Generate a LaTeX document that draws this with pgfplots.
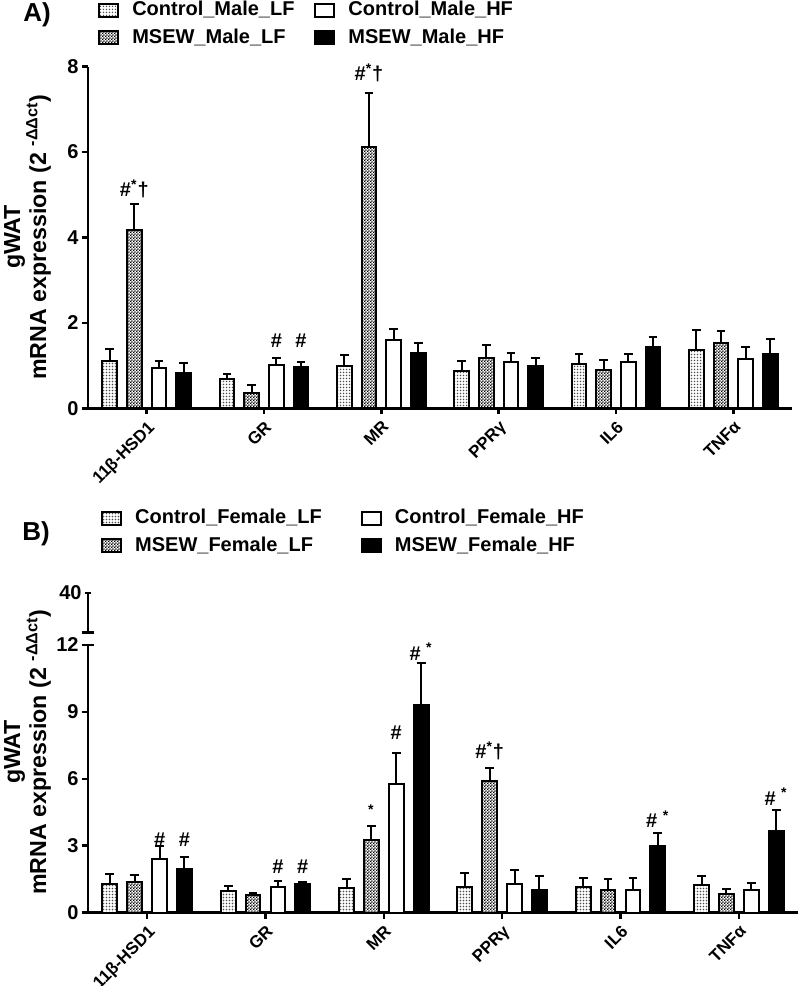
\documentclass[border=0pt]{standalone}
\usepackage{pgfplots}
\usepackage{pgfplotstable}
\pgfplotsset{compat=1.18}
\usepackage{fontspec}
\setmainfont{Liberation Sans}
\usetikzlibrary{patterns}

\pgfdeclarepatternformonly{finedots}{\pgfpoint{-0.1pt}{-0.1pt}}{\pgfpoint{1.6pt}{1.6pt}}{\pgfpoint{1.5pt}{1.5pt}}{\pgfpathcircle{\pgfpoint{0.75pt}{0.75pt}}{0.38pt}\pgfusepath{fill}}
\pgfdeclarepatternformonly{checker}{\pgfpoint{0pt}{0pt}}{\pgfpoint{1.6pt}{1.6pt}}{\pgfpoint{1.6pt}{1.6pt}}{\pgfpathrectangle{\pgfpoint{0pt}{0pt}}{\pgfpoint{0.8pt}{0.8pt}}\pgfpathrectangle{\pgfpoint{0.8pt}{0.8pt}}{\pgfpoint{0.8pt}{0.8pt}}\pgfusepath{fill}}

\tikzset{
 clf/.style={fill=white, draw=black, line width=1pt, postaction={pattern=finedots, pattern color=black!70}},
 mlf/.style={fill=white, draw=black, line width=1pt, postaction={pattern=checker, pattern color=black}},
 chf/.style={fill=white, draw=black, line width=1pt},
 mhf/.style={fill=black, draw=black, line width=1pt},
 ann/.style={font=\bfseries\fontsize{10}{12}\selectfont, inner sep=0pt},
}

% Panel A tables: x y err
\pgfplotstableread{
x y e
0 1.11 0.29
1 0.69 0.11
2 1.00 0.25
3 0.87 0.23
4 1.04 0.23
5 1.36 0.48
}\AClf
\pgfplotstableread{
x y e
0 4.18 0.61
1 0.35 0.20
2 6.12 1.26
3 1.18 0.30
4 0.90 0.22
5 1.53 0.29
}\AMlf
\pgfplotstableread{
x y e
0 0.94 0.17
1 1.01 0.16
2 1.60 0.26
3 1.08 0.22
4 1.08 0.20
5 1.15 0.28
}\AChf
\pgfplotstableread{
x y e
0 0.83 0.24
1 0.96 0.12
2 1.30 0.23
3 0.98 0.20
4 1.43 0.23
5 1.28 0.34
}\AMhf
% Panel B tables
\pgfplotstableread{
x y e
0 1.28 0.45
1 0.97 0.21
2 1.09 0.41
3 1.16 0.62
4 1.13 0.41
5 1.24 0.40
}\BClf
\pgfplotstableread{
x y e
0 1.37 0.33
1 0.78 0.10
2 3.26 0.62
3 5.90 0.59
4 1.01 0.50
5 0.85 0.20
}\BMlf
\pgfplotstableread{
x y e
0 2.40 0.58
1 1.16 0.24
2 5.77 1.39
3 1.30 0.62
4 1.03 0.54
5 1.03 0.28
}\BChf
\pgfplotstableread{
x y e
0 1.94 0.55
1 1.28 0.09
2 9.31 1.88
3 1.03 0.63
4 2.98 0.59
5 3.66 0.94
}\BMhf

\pgfplotsset{
 gp/.style={
  scale only axis,
  xmin=-0.5, xmax=5.5,
  xtick={0,...,5},
  xticklabels={11β-HSD1, GR, MR, PPRγ, IL6, TNFα},
  x tick label style={rotate=45, anchor=north east, font=\bfseries\fontsize{8.5}{10}\selectfont, inner sep=1.8pt},
  y tick label style={font=\bfseries\fontsize{10}{12}\selectfont, inner sep=1.5pt},
  /pgf/number format/assume math mode=true,
  axis lines=left,
  axis line style={line width=1.3pt, -},
  tick align=outside,
  major tick length=3pt,
  tick style={line width=1.3pt, black},
  clip=false,
  legend cell align=left,
  legend columns=2,
  transpose legend,
  legend image code/.code={\draw[#1, line width=1pt] (0pt,-3.25pt) rectangle (9.5pt,3.25pt); \path (14pt,0pt);},
  legend style={draw=none, fill=none, anchor=north west, inner sep=0pt,
    font=\bfseries\fontsize{10}{12}\selectfont, row sep=1pt},
 },
 eb/.style={error bars/.cd, y dir=plus, y explicit, error bar style={line width=1pt, black}, error mark options={rotate=90, line width=1pt, mark size=2.2pt, black}},
 bs/.style={ybar, bar width=0.125, bar shift=0pt},
}

\begin{document}
\begin{tikzpicture}
\path[use as bounding box] (0,0) rectangle (400pt,493pt);

% ---------- Panel A ----------
\begin{axis}[gp, at={(44pt,288.85pt)}, anchor=south west,
  width=352pt, height=170.8pt,
  ymin=0, ymax=8, ytick={0,2,4,6,8},
  legend style={at={(0.014,1.204)}, /tikz/every even column/.append style={column sep=8pt}}]
\addplot[bs, clf, eb] table[x expr=\thisrow{x}-0.315, y=y, y error=e] {\AClf};
\addlegendentry{Control\_Male\_LF}
\addplot[bs, mlf, eb] table[x expr=\thisrow{x}-0.105, y=y, y error=e] {\AMlf};
\addlegendentry{MSEW\_Male\_LF}
\addplot[bs, chf, eb] table[x expr=\thisrow{x}+0.105, y=y, y error=e] {\AChf};
\addlegendentry{Control\_Male\_HF}
\addplot[bs, mhf, eb] table[x expr=\thisrow{x}+0.315, y=y, y error=e] {\AMhf};
\addlegendentry{MSEW\_Male\_HF}
\node[ann] at (axis cs:-0.105,5.14) {\#\textsuperscript{*}†};
\node[ann] at (axis cs:1.105,1.58) {\#};
\node[ann] at (axis cs:1.315,1.58) {\#};
\node[ann] at (axis cs:1.895,7.86) {\#\textsuperscript{*}†};
\end{axis}

% ---------- Panel B (upper segment) ----------
\begin{axis}[gp, at={(44pt,176.65pt)}, anchor=south west,
  width=355pt, height=19.85pt,
  ymin=30, ymax=40, ytick={40},
  axis x line=none, axis y line=left,
  axis line style={line width=1.3pt, -},
  extra y ticks={30}, extra y tick labels={},
  extra y tick style={tick align=center, major tick length=6pt}]
\addplot[draw=none, forget plot] coordinates {(0,35)};
\end{axis}

% ---------- Panel B (lower segment) ----------
\begin{axis}[gp, at={(44pt,36.7pt)}, anchor=south west,
  width=355pt, height=133.8pt,
  ymin=0, ymax=12, ytick={0,3,6,9,12},
  extra y ticks={12}, extra y tick labels={},
  extra y tick style={tick align=center, major tick length=6pt},
  legend style={at={(0.018,1.523)}, /tikz/every even column/.append style={column sep=17.5pt}}]
\addplot[bs, clf, eb] table[x expr=\thisrow{x}-0.315, y=y, y error=e] {\BClf};
\addlegendentry{Control\_Female\_LF}
\addplot[bs, mlf, eb] table[x expr=\thisrow{x}-0.105, y=y, y error=e] {\BMlf};
\addlegendentry{MSEW\_Female\_LF}
\addplot[bs, chf, eb] table[x expr=\thisrow{x}+0.105, y=y, y error=e] {\BChf};
\addlegendentry{Control\_Female\_HF}
\addplot[bs, mhf, eb] table[x expr=\thisrow{x}+0.315, y=y, y error=e] {\BMhf};
\addlegendentry{MSEW\_Female\_HF}
\node[ann] at (axis cs:0.105,3.26) {\#};
\node[ann] at (axis cs:0.315,3.26) {\#};
\node[ann] at (axis cs:1.105,2.04) {\#};
\node[ann] at (axis cs:1.315,2.04) {\#};
\node[ann] at (axis cs:1.895,4.45) {\textsuperscript{*}};
\node[ann] at (axis cs:2.105,8.06) {\#};
\node[ann] at (axis cs:2.315,11.7) {\# \textsuperscript{*}};
\node[ann] at (axis cs:2.895,7.25) {\#\textsuperscript{*}†};
\node[ann] at (axis cs:4.315,4.2) {\# \textsuperscript{*}};
\node[ann] at (axis cs:5.315,5.2) {\# \textsuperscript{*}};
\end{axis}

% Panel labels and y-axis titles
\node[font=\bfseries\fontsize{13}{15}\selectfont] at (18.5pt,485.5pt) {A)};
\node[font=\bfseries\fontsize{13}{15}\selectfont] at (18pt,226pt) {B)};
\node[rotate=90, align=center, font=\bfseries\fontsize{11.6}{13}\selectfont] at (13.75pt,374.5pt) {gWAT\\mRNA expression (2 \textsuperscript{-ΔΔct})};
\node[rotate=90, align=center, font=\bfseries\fontsize{11.6}{13}\selectfont] at (13.75pt,117pt) {gWAT\\mRNA expression (2 \textsuperscript{-ΔΔct})};
\end{tikzpicture}
\end{document}
